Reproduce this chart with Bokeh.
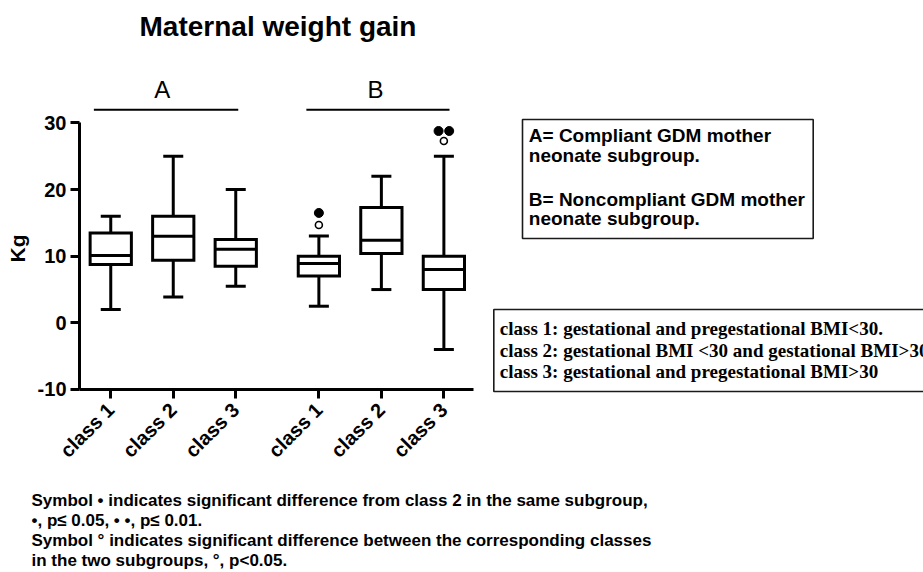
import math
from bokeh.plotting import figure
from bokeh.models import Range1d, FixedTicker, Label, BoxAnnotation, ColumnDataSource
from bokeh.transform import dodge
from bokeh.embed import file_html
from bokeh.resources import INLINE

# ---- data ----
classes = ["class 1", "class 2", "class 3", "class 1", "class 2", "class 3"]
groups = ["A", "A", "A", "B", "B", "B"]
positions = [1, 2, 3, 4.33, 5.33, 6.33]
whisker_low = [2.0, 3.9, 5.5, 2.5, 5.0, -4.0]
q1 = [8.75, 9.4, 8.5, 7.05, 10.4, 5.0]
median = [10.1, 13.0, 11.05, 8.9, 12.4, 8.0]
q3 = [13.5, 16.0, 12.5, 10.0, 17.3, 10.0]
whisker_high = [16.0, 25.0, 20.0, 13.05, 22.0, 25.0]

# significance symbols (filled = vs class 2, open = between subgroups)
sig_dot_x = [4.33, 6.245, 6.415]
sig_dot_y = [16.5, 28.8, 28.8]
sig_open_x = [4.33, 6.33]
sig_open_y = [14.7, 27.3]

y_ticks = [-10, 0, 10, 20, 30]
y_tick_labels = ["-10", "0", "10", "20", "30"]

FONT = "Liberation Sans"
SERIF = "Liberation Serif"
W, H = 923, 572

# the frame fills the whole canvas; axes are pinned with fixed_location
p = figure(width=W, height=H, output_backend="svg", toolbar_location=None,
           x_range=Range1d(-0.764, 14.004), y_range=Range1d(-37.467, 48.386),
           min_border_left=0, min_border_right=0, min_border_top=0,
           min_border_bottom=0)
p.grid.visible = False
p.outline_line_color = None
p.background_fill_color = "white"
p.border_fill_color = "white"

p.xaxis.fixed_location = -10
p.yaxis.fixed_location = 0.5
p.xaxis.bounds = (0.5, 6.8)
p.xaxis.ticker = FixedTicker(ticks=positions)
p.xaxis.major_label_overrides = {pos: lab for pos, lab in zip(positions, classes)}
p.xaxis.major_label_orientation = math.pi / 4
p.yaxis.bounds = (-10, 30)
p.yaxis.ticker = FixedTicker(ticks=y_ticks)
p.yaxis.major_label_overrides = {t: lab for t, lab in zip(y_ticks, y_tick_labels)}
for ax in p.axis:
    ax.axis_line_width = 3
    ax.axis_line_color = "black"
    ax.major_tick_line_width = 3
    ax.major_tick_line_color = "black"
    ax.major_tick_out = 9
    ax.major_tick_in = 0
    ax.minor_tick_out = 0
    ax.minor_tick_in = 0
    ax.major_label_text_font = FONT
    ax.major_label_text_font_style = "bold"
    ax.major_label_text_font_size = "20px"
    ax.major_label_text_color = "black"
p.yaxis.major_label_standoff = 4
p.xaxis.major_label_standoff = 8

src = ColumnDataSource(dict(x=positions, lo=whisker_low, q1=q1, med=median,
                            q3=q3, hi=whisker_high, cls=classes, grp=groups))

# whiskers
p.segment(x0="x", y0="lo", x1="x", y1="q1", source=src, line_width=3, line_color="black")
p.segment(x0="x", y0="q3", x1="x", y1="hi", source=src, line_width=3, line_color="black")
# caps
p.segment(x0=dodge("x", -0.16), y0="lo", x1=dodge("x", 0.16), y1="lo", source=src,
          line_width=3, line_color="black")
p.segment(x0=dodge("x", -0.16), y0="hi", x1=dodge("x", 0.16), y1="hi", source=src,
          line_width=3, line_color="black")
# boxes
p.vbar(x="x", width=0.66, bottom="q1", top="q3", source=src, fill_color="white",
       line_color="black", line_width=3, line_join="miter")
# medians
p.segment(x0=dodge("x", -0.33), y0="med", x1=dodge("x", 0.33), y1="med", source=src,
          line_width=3, line_color="black")

# significance symbols
p.scatter(sig_dot_x, sig_dot_y, size=9, marker="circle", fill_color="black", line_color="black")
p.scatter(sig_open_x, sig_open_y, size=7, marker="circle", fill_color="white",
          line_color="black", line_width=1.6)

# group brackets
p.segment(x0=[0.73, 4.13], y0=[31.97, 31.97], x1=[3.04, 6.42], y1=[31.97, 31.97],
          line_width=2, line_color="black")


def add_text(txt, px, py, size, font=FONT, style="bold", align="left", angle=0):
    """px, py: page position of the text baseline (from top-left)."""
    corr = 0.37 * size
    if angle:
        sx, sy = px - corr, H - py
    else:
        sx, sy = px, H - py + corr
    p.add_layout(Label(x=sx, y=sy, x_units="screen", y_units="screen", text=txt,
                       text_font=font, text_font_style=style,
                       text_font_size=f"{size}px", text_align=align,
                       text_baseline="alphabetic", angle=angle, text_color="black"))


def add_box(left, right, top, bottom):
    p.add_layout(BoxAnnotation(left=left, right=right, top=H - top, bottom=H - bottom,
                               left_units="screen", right_units="screen",
                               top_units="screen", bottom_units="screen",
                               fill_color=None, fill_alpha=0, line_color="#1a1a1a",
                               line_alpha=1.0, line_width=1.6))


# title, group letters, y label
add_text("Maternal weight gain", 277.5, 36.7, 28, align="center")
add_text("A", 161.7, 98.3, 24, style="normal", align="center")
add_text("B", 375, 98.3, 24, style="normal", align="center")
add_text("Kg", 25, 248, 21, align="center", angle=math.pi / 2)

# legend box 1
add_box(522, 812.7, 119, 238)
add_text("A= Compliant GDM mother", 528.3, 141.7, 19)
add_text("neonate subgroup.", 528.3, 161.7, 19)
add_text("B= Noncompliant GDM mother", 528.3, 205.7, 19)
add_text("neonate subgroup.", 528.3, 225, 19)

# legend box 2
add_box(493.3, 1000, 309, 391)
add_text("class 1: gestational and pregestational BMI<30.", 499.3, 335, 19, font=SERIF)
add_text("class 2: gestational BMI <30 and gestational BMI>30", 499.3, 356.7, 19, font=SERIF)
add_text("class 3: gestational and pregestational BMI>30", 499.3, 378, 19, font=SERIF)

# notes
add_text("Symbol \u2022 indicates significant difference from class 2 in the same subgroup,", 31, 506.5, 17)
add_text("\u2022, p\u2264 0.05, \u2022 \u2022, p\u2264 0.01.", 31, 526.5, 17)
add_text("Symbol \u00b0 indicates significant difference between the corresponding classes", 31, 546.5, 17)
add_text("in the two subgroups, \u00b0, p<0.05.", 31, 566.5, 17)

open("out.html", "w").write(file_html(p, INLINE))
